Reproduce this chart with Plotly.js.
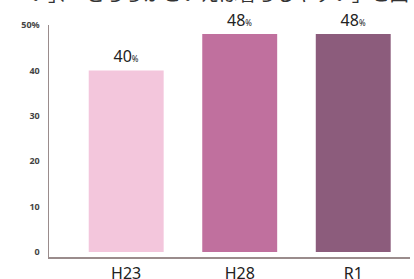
<!DOCTYPE html>
<html><head><meta charset="utf-8">
<script src="https://cdn.plot.ly/plotly-3.0.1.min.js"></script>
<style>html,body{margin:0;padding:0;background:#fff;}#c{width:414px;height:279px;}</style>
</head><body><div id="c"></div>
<script>
const categories = ["H23", "H28", "R1"];
const values = [40, 48, 48];
const barColors = ["#f3c6dc", "#c0709e", "#8c5c7c"];
const tickVals = [0, 10, 20, 30, 40, 50];
const tickText = ["0", "10", "20", "30", "40", "50%"];
const headerText = "い」、「どちらかといえば暮らしやすい」と回";

const trace = {
  type: "bar",
  x: categories,
  y: values,
  marker: {color: barColors},
  width: 0.66,
  text: values.map(v => v + "<span style='font-size:8px'>%</span>"),
  texttemplate: "%{text}",
  textposition: "outside",
  cliponaxis: false,
  textfont: {family: "Noto Sans, Arial, sans-serif", size: 16, color: "#222"},
  hoverinfo: "none"
};

const layout = {
  width: 414, height: 279,
  margin: {l: 49, r: 4, t: 25, b: 22},
  paper_bgcolor: "#fff", plot_bgcolor: "#fff",
  showlegend: false,
  xaxis: {
    type: "category",
    range: [-0.68, 2.5],
    showline: true, linecolor: "#9a8c8c", linewidth: 1.5,
    ticks: "", showgrid: false, zeroline: false,
    tickfont: {family: "Noto Sans, Arial, sans-serif", size: 16, color: "#222"},
    ticklabelstandoff: 1
  },
  yaxis: {
    range: [-1.1, 50],
    tickvals: tickVals, ticktext: tickText,
    showline: true, linecolor: "#9a8c8c", linewidth: 1.5,
    ticks: "", showgrid: false, zeroline: false,
    tickfont: {family: "Noto Sans, Arial, sans-serif", size: 9, color: "#444", weight: "bold"},
    ticklabelstandoff: 6
  },
  annotations: [{
    text: headerText, xref: "paper", yref: "paper",
    x: 0.47, y: 1.14, xanchor: "center", yanchor: "middle",
    showarrow: false,
    font: {family: "Noto Sans CJK JP, sans-serif", size: 19, color: "#333"}
  }]
};

Plotly.newPlot("c", [trace], layout, {staticPlot: true, displayModeBar: false});
</script>
</body></html>
